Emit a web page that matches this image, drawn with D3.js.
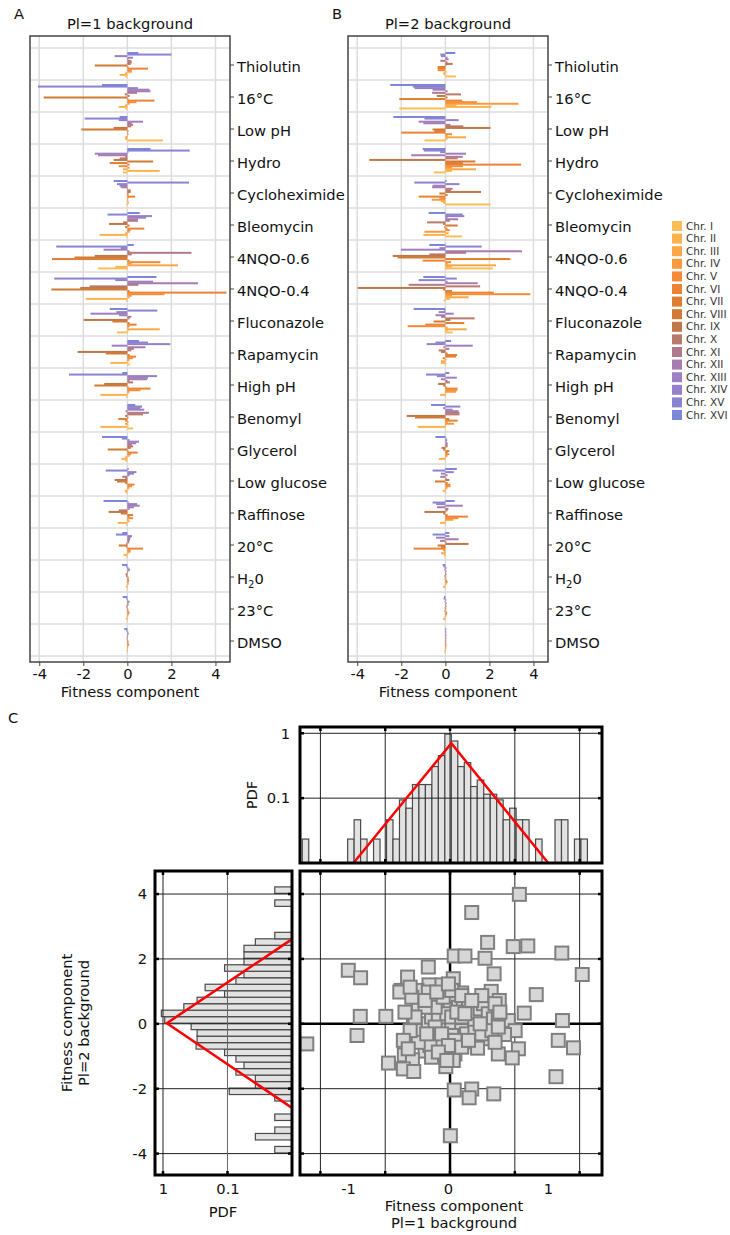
<!DOCTYPE html>
<html>
<head>
<meta charset="utf-8">
<script src="https://cdn.jsdelivr.net/npm/d3@7"></script>
<style>
body { margin: 0; background: #fff; }
svg { font-family: "DejaVu Sans", Verdana, sans-serif; }
</style>
</head>
<body>
<svg width="730" height="1235"></svg>
<script>
var conditions = ["Thiolutin", "16°C", "Low pH", "Hydro", "Cycloheximide", "Bleomycin", "4NQO-0.6", "4NQO-0.4",
    "Fluconazole", "Rapamycin", "High pH", "Benomyl", "Glycerol", "Low glucose", "Raffinose", "20°C", "H20", "23°C", "DMSO"];

var chroms = ["Chr. I", "Chr. II", "Chr. III", "Chr. IV", "Chr. V", "Chr. VI", "Chr. VII", "Chr. VIII",
    "Chr. IX", "Chr. X", "Chr. XI", "Chr. XII", "Chr. XIII", "Chr. XIV", "Chr. XV", "Chr. XVI"];

var chrColors = ["#fbbe55", "#fbb24c", "#fba745", "#f99a3f", "#f78b35", "#ec8334", "#de7e33", "#d07a34",
    "#c07849", "#b97a6b", "#b07a8c", "#a87bb1", "#9e7fc3", "#9381ca", "#8884d2", "#7d87d9"];

// fitness components per condition, listed Chr. XVI (top of group) down to Chr. I
var pl1Values = [
    [0.5, 2.0, -0.58, 0.26, 0.05, 0.18, 0.2, 0.15, -1.48, 0.05, 0.94, 0.2, 0.2, -0.1, -0.35, -0.1],
    [-1.15, -4.06, 0.48, 1.0, 1.05, 0.44, -0.12, 0.1, -3.8, 0.05, 1.23, 0.41, 0.1, -0.1, -0.4, -0.1],
    [-0.35, -1.94, -0.39, 0.71, 0.2, 0.26, 0.18, -0.62, -2.09, 0.05, 0.03, 0.05, 0.02, -0.1, -0.1, 1.62],
    [1.05, 2.83, 0.05, -1.48, -1.33, -0.1, -0.35, -0.62, 1.17, -0.8, 0.1, -0.39, 0.1, -0.2, 1.47, -0.2],
    [-0.62, 2.8, -0.47, -0.35, -0.3, 0.03, 0.15, 0.15, 0.05, 0.05, 0.35, 0.05, 0.02, 0.05, 0.07, -0.05],
    [0.56, -0.9, 1.12, 0.85, 0.48, 0.48, -0.2, -0.83, 0.1, -0.1, 0.77, 0.15, 0.1, -0.1, -1.26, -0.05],
    [0.29, -3.23, -0.3, -1.08, 0.1, 2.91, 0.2, -1.48, -2.4, -3.42, 0.1, 1.5, 0.2, 2.3, -0.55, -1.33],
    [1.32, -3.32, -0.55, 1.17, 3.21, 0.5, -1.71, -2.14, -3.45, 0.1, 4.5, 1.68, 0.2, 0.1, -1.89, -0.05],
    [-0.8, 1.36, -0.5, -1.67, -0.38, 0.18, 0.1, -1.98, -0.68, 0.1, 0.42, 0.1, 0.05, 1.47, 0.05, -0.47],
    [0.53, 0.94, 1.95, -0.71, 0.82, 0.3, 0.18, -2.26, -0.98, 0.1, 0.39, 0.26, 0.1, 0.05, -0.77, 0.12],
    [-0.23, -2.65, 1.35, 0.94, 0.9, 0.1, 0.26, -1.05, -1.5, 0.05, 1.05, 0.59, 0.1, 0.05, -1.23, -0.05],
    [0.36, 0.67, 0.59, 0.77, -0.08, 0.98, 0.71, -0.1, 0.05, -0.41, -0.1, 0.05, -0.1, 0.05, -1.23, 0.26],
    [-1.15, -0.25, 0.1, 0.53, 0.4, 0.2, 0.26, 0.15, -0.89, 0.05, 0.47, 0.17, 0.1, -0.1, -0.27, -0.1],
    [0.06, -0.98, 0.41, 0.3, 0.1, -0.23, -0.1, -0.58, -0.47, -0.1, 0.32, 0.21, 0.1, 0.05, -0.12, -0.08],
    [-1.08, 0.06, 0.44, 0.56, 0.3, 0.1, -0.39, -0.85, -0.3, 0.26, 0.1, 0.26, 0.05, 0.1, -0.44, -0.05],
    [-0.23, -0.52, 0.21, 0.15, 0.12, 0.1, 0.08, -0.05, -0.39, -0.05, 0.71, 0.15, 0.14, 0.05, -0.17, -0.05],
    [-0.24, -0.05, 0.05, 0.12, 0.05, 0.03, -0.08, -0.06, 0.05, 0.06, 0.08, 0.05, 0.06, -0.03, -0.06, 0.02],
    [-0.21, -0.05, 0.03, 0.1, 0.05, 0.05, -0.05, -0.03, 0.04, 0.05, 0.1, 0.06, 0.04, -0.03, -0.06, 0.02],
    [-0.14, -0.05, 0.04, 0.06, 0.03, 0.03, -0.03, -0.02, 0.05, 0.04, 0.08, 0.04, 0.03, 0.02, -0.03, 0.02]
];

var pl2Values = [
    [0.45, -0.23, -0.2, 0.1, 0.15, -0.23, 0.1, 0.33, 0.05, -0.35, -0.35, -0.35, 0.05, -0.1, -0.05, 0.48],
    [-2.5, -1.48, -1.4, -0.58, 0.1, -0.6, 0.71, -0.39, 0.1, -2.09, 0.76, 1.44, 3.32, 0.5, 2.09, -2.09],
    [-2.36, -0.95, 0.6, -1.21, -1.0, 0.23, 0.82, 2.05, -0.58, -0.5, -2.0, 0.3, 0.1, 0.94, 0.1, -0.95],
    [-1.03, -0.98, -0.24, 0.94, -1.55, 0.79, 0.56, -3.45, 1.36, 0.79, 3.44, 0.8, 0.3, 1.39, 0.3, -0.53],
    [0.06, -1.41, 0.64, -0.58, -0.6, 0.33, 0.25, 1.62, -0.27, 0.1, -1.21, -0.27, -0.62, -0.2, -0.1, 2.05],
    [-0.76, 0.79, 0.86, 0.1, 0.58, 0.2, -0.83, -0.1, 0.56, -0.05, 0.1, 0.2, -0.95, 0.15, -1.0, 0.76],
    [-0.73, 1.65, -0.27, -2.02, 3.48, 0.94, -0.73, -2.39, -2.17, 2.95, -1.03, 0.26, 0.1, 2.3, 0.3, 2.15],
    [-1.0, 0.52, -1.21, 0.1, 1.47, -1.67, 1.58, -3.98, -0.1, 0.3, 2.2, 3.86, 0.3, 1.06, 0.2, -0.08],
    [-1.44, -0.05, -0.3, 0.38, -0.45, -0.2, 1.33, 0.23, -0.53, 0.86, -0.91, -1.71, 0.1, 0.97, 0.1, 0.33],
    [0.26, -0.45, -0.85, 1.24, -0.09, 0.18, -0.3, -0.2, 0.1, 0.53, 0.48, -0.12, 0.05, -0.2, -0.2, 0.05],
    [0.18, -0.88, -0.39, 0.52, -0.2, 0.1, 0.21, -0.33, -0.1, 0.05, 0.56, 0.53, 0.48, 0.05, -0.24, 0.03],
    [-0.65, 0.68, -0.1, 0.33, 0.6, 0.64, 0.64, -1.76, -1.38, 0.18, 0.56, 0.1, 0.39, 0.05, -1.26, 0.02],
    [-0.45, 0.05, 0.08, 0.05, 0.1, 0.1, 0.1, -0.17, -0.1, 0.18, 0.1, 0.18, 0.1, 0.05, -0.3, 0.02],
    [0.52, -0.58, 0.38, -0.2, 0.1, -0.23, 0.05, 0.18, -0.47, 0.1, 0.23, 0.23, 0.1, 0.05, -0.12, 0.05],
    [0.42, -0.58, -0.42, 0.79, -0.38, 0.14, 0.1, -0.95, -0.1, 0.1, 1.02, 0.59, 0.36, 0.05, -0.24, 0.03],
    [0.18, -0.58, 0.18, -0.42, 0.6, -0.24, 0.05, 1.05, -0.35, -0.2, -1.44, -0.1, -0.05, -0.2, -0.05, -0.05],
    [-0.12, -0.08, 0.05, -0.05, 0.05, 0.03, 0.05, -0.04, 0.04, -0.03, 0.08, 0.1, 0.05, -0.03, -0.1, 0.02],
    [-0.06, -0.08, 0.04, -0.03, 0.05, 0.03, 0.05, -0.03, 0.04, -0.04, 0.08, 0.08, 0.04, -0.03, -0.1, 0.02],
    [0.04, 0.03, 0.04, 0.03, 0.05, 0.03, 0.04, 0.02, 0.04, 0.03, 0.05, 0.04, 0.04, 0.03, -0.04, -0.03]
];

var barTicks = [-4, -2, 0, 2, 4];

// panel C histograms (bin width 0.2)
var binW = 0.2;
var topBinStart = -4.56;
var topPdf = [0.0234, 0, 0, 0, 0, 0, 0, 0.0234, 0.0464, 0.0234, 0, 0.0234, 0, 0.0464, 0.0234, 0.094,
    0.070, 0.162, 0.162, 0.162, 0.307, 0.453, 0.97, 0.76, 0.307, 0.353, 0.151, 0.19, 0.115, 0.115,
    0.094, 0.0464, 0.070, 0.0464, 0.0464, 0, 0.0234, 0, 0, 0.0464, 0.0464, 0, 0.0234, 0.0234];
var leftBinStart = -3.98;
var leftPdf = [0.0185, 0, 0.037, 0.0185, 0, 0.0185, 0, 0, 0.0185, 0.094, 0.037, 0.037, 0.074, 0.0555,
    0.074, 0.111, 0.307, 0.296, 0.296, 0.366, 0.94, 1.06, 0.475, 0.296, 0.111, 0.222, 0.074, 0.0555,
    0.111, 0.0555, 0.0555, 0.0555, 0.037, 0.0185, 0, 0, 0, 0, 0.0185, 0, 0.0185];
// Laplace fits drawn in red: [value, pdf]
var topFit = [[-2.98, 0.01], [0.04, 0.70], [3.03, 0.01]];
var leftFit = [[-2.59, 0.01], [0.02, 0.87], [2.61, 0.01]];

// scatter: [Pl=1 fitness, Pl=2 fitness]
var scatterPts = [
    [2.14, 3.99], [0.67, 3.43], [1.16, 2.51], [1.95, 2.38], [2.40, 2.40], [3.45, 2.18], [0.13, 2.09],
    [0.46, 2.09], [1.08, 2.02], [-0.67, 1.75], [-3.14, 1.65], [-2.76, 1.42], [1.36, 1.54], [4.08, 1.52],
    [-1.31, 1.44], [0.10, 1.39], [-0.26, 1.20], [-0.65, 1.20], [-1.51, 1.03], [-1.55, 0.98], [-1.02, 1.03],
    [0.36, 0.95], [1.27, 1.00], [2.66, 0.90], [1.52, 0.72], [-0.51, 0.77], [-0.98, 0.60], [-0.10, 0.67],
    [0.15, 0.62], [0.77, 0.51], [-0.38, 0.39], [0.00, 0.46], [0.36, 0.41], [1.13, 0.46], [2.29, 0.33],
    [-2.77, 0.23], [-1.98, 0.23], [0.62, 0.21], [0.98, 0.21], [1.51, 0.12], [1.80, 0.10], [3.47, 0.10],
    [-0.87, -0.02], [-1.13, -0.05], [-0.21, -0.06], [0.05, -0.10], [0.67, -0.05], [1.13, 0.00], [2.01, -0.21],
    [-2.87, -0.36], [-4.42, -0.62], [-1.23, -0.48], [-0.46, -0.44], [0.41, -0.55], [1.23, -0.46], [1.68, -0.33],
    [3.34, -0.51], [3.81, -0.74], [2.11, -0.77], [0.85, -0.75], [-0.77, -0.84], [-1.41, -0.96], [-0.10, -0.82],
    [0.15, -0.93], [1.49, -0.93], [1.92, -1.05], [-1.90, -1.21], [-1.16, -1.11], [-1.44, -1.39], [-1.12, -1.47],
    [-0.13, -1.32], [3.27, -1.63], [0.13, -2.04], [0.67, -2.01], [0.59, -2.28], [1.35, -2.16], [0.01, -3.45],
    [-1.08, -0.05], [-0.96, -0.21], [-0.67, 0.00], [-0.57, 0.21], [-0.36, 0.21], [-0.10, 0.31], [0.05, 0.21],
    [0.26, 0.51], [0.41, 0.72], [0.57, 0.62], [0.77, 0.36], [0.93, 0.46], [1.03, 0.62], [1.18, 0.31],
    [1.34, 0.15], [1.49, 0.31], [0.36, -0.21], [0.51, -0.31], [0.77, -0.26], [0.98, -0.31], [1.29, -0.21],
    [0.05, -0.36], [-0.15, -0.51], [-0.36, -0.57], [-0.62, -0.67], [-0.98, -0.57], [-1.23, -0.21], [-0.46, -0.10],
    [-0.72, -0.31], [-0.26, -0.31], [0.15, -0.51], [-0.05, -0.67], [0.36, 0.21], [0.21, 0.36], [-0.46, 0.51],
    [-0.21, 0.82], [0.05, 1.03], [0.36, 0.87], [-0.77, 0.51], [-1.18, 0.82], [-1.23, 1.13], [-0.67, 0.98],
    [0.98, 0.87], [1.39, 0.62], [1.54, 0.36], [-1.08, 0.21], [-1.39, 0.36], [-1.44, -0.51], [-1.29, -0.77],
    [-0.57, -1.03], [-0.36, -0.87], [0.10, -1.13], [-0.10, -1.13], [0.36, -0.72], [0.57, -0.51], [0.93, 0.00],
    [1.49, -0.10], [1.39, -0.57], [-0.77, 0.72], [-0.41, 0.98], [-0.05, 1.23], [0.46, 0.31], [0.67, 0.72]
];

var cGrid = [-4, -2, 0, 2, 4];
var cLabels = [-1, 0, 1];

var FS = 14.7;
var svg = d3.select("svg");

function txt(x, y, s, size, anchor) {
    return svg.append("text").attr("x", x).attr("y", y).attr("font-size", size || FS)
        .attr("text-anchor", anchor || "middle").attr("fill", "#111").text(s);
}

function styleText(sel) {
    sel.selectAll("text").attr("font-size", FS).attr("font-family", "DejaVu Sans").attr("fill", "#111");
}

// ---------- panels A and B ----------
function barPanel(left, values, letter, title) {
    var x = d3.scaleLinear().domain([-4.42, 4.66]).range([left, left + 200]);
    var y = d3.scaleBand().domain(conditions).range([48, 656]);
    var yIn = d3.scaleBand().domain(d3.range(16)).range([-12.5, 12.5]);
    var top = 36, bottom = 662;
    var g = svg.append("g");

    g.selectAll(".vg").data(barTicks).join("line")
        .attr("x1", d => x(d)).attr("x2", d => x(d)).attr("y1", top).attr("y2", bottom)
        .attr("stroke", "#dcdcdc").attr("stroke-width", 1.5);
    var bounds = conditions.map(c => y(c)).concat([y.range()[1]]);
    g.selectAll(".hg").data(bounds).join("line")
        .attr("x1", left).attr("x2", left + 200).attr("y1", d => d).attr("y2", d => d)
        .attr("stroke", "#dcdcdc").attr("stroke-width", 1.5);

    var bars = [];
    values.forEach(function(row, i) {
        row.forEach(function(v, j) {
            bars.push({cond: conditions[i], j: j, v: v});
        });
    });
    g.selectAll(".bar").data(bars).join("rect")
        .attr("x", d => x(Math.min(0, d.v)))
        .attr("width", d => Math.abs(x(d.v) - x(0)))
        .attr("y", d => y(d.cond) + y.bandwidth() / 2 + yIn(d.j) + 0.5)
        .attr("height", 2)
        .attr("fill", d => chrColors[15 - d.j]);

    g.append("rect").attr("x", left).attr("y", top).attr("width", 200).attr("height", bottom - top)
        .attr("fill", "none").attr("stroke", "#444").attr("stroke-width", 1.5);

    var ax = g.append("g").attr("transform", "translate(0," + bottom + ")")
        .call(d3.axisBottom(x).tickValues(barTicks).tickSize(4).tickPadding(3).tickFormat(d => String(d)));
    ax.select(".domain").remove();
    ax.selectAll("line").attr("stroke", "#444");
    styleText(ax);

    var ay = g.append("g").attr("transform", "translate(" + (left + 200) + ",1)")
        .call(d3.axisRight(y).tickSize(4).tickPadding(3));
    ay.select(".domain").remove();
    ay.selectAll("line").attr("stroke", "#444");
    styleText(ay);
    ay.selectAll(".tick text").attr("dy", "0.5em");
    ay.selectAll(".tick text").filter(d => d === "H20").text(null).each(function() {
        var t = d3.select(this);
        t.append("tspan").text("H");
        t.append("tspan").attr("dy", 4).attr("font-size", 10).text("2");
        t.append("tspan").attr("dy", -4).text("0");
    });

    txt(left - 16, 19, letter, FS, "start");
    txt(left + 100, 29, title);
    txt(left + 100, 697, "Fitness component");
}

barPanel(30, pl1Values, "A", "Pl=1 background");
barPanel(348, pl2Values, "B", "Pl=2 background");

// legend
var leg = svg.append("g");
leg.selectAll("rect").data(chroms).join("rect")
    .attr("x", 672).attr("y", (d, i) => 221 + i * 12.6).attr("width", 10).attr("height", 10)
    .attr("fill", (d, i) => chrColors[i]);
leg.selectAll("text").data(chroms).join("text")
    .attr("x", 686).attr("y", (d, i) => 229.5 + i * 12.6)
    .attr("font-size", 10.5).attr("font-family", "DejaVu Sans").attr("fill", "#333")
    .text(d => d);

// ---------- panel C ----------
var xC = d3.scaleLinear().domain([-4.63, 4.69]).range([300, 602]);
var xLab = d3.scaleLinear().domain([-1.48, 1.54]).range([300, 602]);
var yC = d3.scaleLinear().domain([-4.66, 4.71]).range([1175, 871]);
var yTop = d3.scaleLog().domain([0.01, 1.25]).range([863, 727]);
var xLeft = d3.scaleLog().domain([0.01, 1.33]).range([292, 155]);

txt(8, 723, "C", FS, "start");

function nubs(g, xs, ys, x0, x1, y0, y1) {
    xs.forEach(function(v) {
        g.append("line").attr("x1", v).attr("x2", v).attr("y1", y0).attr("y2", y0 + 4).attr("stroke", "#000").attr("stroke-width", 2.5);
        g.append("line").attr("x1", v).attr("x2", v).attr("y1", y1 - 4).attr("y2", y1).attr("stroke", "#000").attr("stroke-width", 2.5);
    });
    ys.forEach(function(v) {
        g.append("line").attr("x1", x0).attr("x2", x0 + 4).attr("y1", v).attr("y2", v).attr("stroke", "#000").attr("stroke-width", 2.5);
        g.append("line").attr("x1", x1 - 4).attr("x2", x1).attr("y1", v).attr("y2", v).attr("stroke", "#000").attr("stroke-width", 2.5);
    });
}

// top histogram
var gt = svg.append("g");
var topBars = topPdf.map((p, i) => ({x0: topBinStart + i * binW, p: p})).filter(d => d.p > 0);
gt.selectAll("rect.b").data(topBars).join("rect")
    .attr("x", d => xC(d.x0)).attr("width", d => xC(d.x0 + binW) - xC(d.x0))
    .attr("y", d => yTop(d.p)).attr("height", d => yTop(0.01) - yTop(d.p))
    .attr("fill", "#e2e2e2").attr("stroke", "#4a4a4a").attr("stroke-width", 1.2);
gt.selectAll(".vg").data(cGrid).join("line")
    .attr("x1", d => xC(d)).attr("x2", d => xC(d)).attr("y1", 727).attr("y2", 863)
    .attr("stroke", "#222").attr("stroke-width", 1);
gt.selectAll(".hg").data([1, 0.1]).join("line")
    .attr("x1", 300).attr("x2", 602).attr("y1", d => yTop(d)).attr("y2", d => yTop(d))
    .attr("stroke", "#222").attr("stroke-width", 1);
nubs(gt, cGrid.map(xC), [1, 0.1].map(yTop), 300, 602, 727, 863);
gt.append("path").datum(topFit)
    .attr("d", d3.line().x(d => xC(d[0])).y(d => yTop(d[1])))
    .attr("fill", "none").attr("stroke", "#ff0000").attr("stroke-width", 2.5);
gt.append("rect").attr("x", 300).attr("y", 727).attr("width", 302).attr("height", 136)
    .attr("fill", "none").attr("stroke", "#000").attr("stroke-width", 3);
var aTop = gt.append("g").attr("transform", "translate(300,0)")
    .call(d3.axisLeft(yTop).tickValues([1, 0.1]).tickSize(0).tickPadding(10).tickFormat(d => d === 1 ? "1" : "0.1"));
aTop.select(".domain").remove();
styleText(aTop);
txt(0, 0, "PDF").attr("transform", "translate(257,795) rotate(-90)");

// left histogram
var gl = svg.append("g");
var leftBars = leftPdf.map((p, i) => ({y0: leftBinStart + i * binW, p: p})).filter(d => d.p > 0);
gl.selectAll("rect.b").data(leftBars).join("rect")
    .attr("x", d => xLeft(d.p)).attr("width", d => xLeft(0.01) - xLeft(d.p))
    .attr("y", d => yC(d.y0 + binW)).attr("height", d => yC(d.y0) - yC(d.y0 + binW))
    .attr("fill", "#e2e2e2").attr("stroke", "#4a4a4a").attr("stroke-width", 1.2);
gl.selectAll(".hg").data(cGrid).join("line")
    .attr("x1", 155).attr("x2", 292).attr("y1", d => yC(d)).attr("y2", d => yC(d))
    .attr("stroke", "#222").attr("stroke-width", 1);
gl.selectAll(".vg").data([1, 0.1]).join("line")
    .attr("x1", d => xLeft(d)).attr("x2", d => xLeft(d)).attr("y1", 871).attr("y2", 1175)
    .attr("stroke", d => d === 1 ? "#222" : "#666").attr("stroke-width", 1);
nubs(gl, [1, 0.1].map(xLeft), cGrid.map(yC), 155, 292, 871, 1175);
gl.append("path").datum(leftFit)
    .attr("d", d3.line().x(d => xLeft(d[1])).y(d => yC(d[0])))
    .attr("fill", "none").attr("stroke", "#ff0000").attr("stroke-width", 2.5);
gl.append("rect").attr("x", 155).attr("y", 871).attr("width", 137).attr("height", 304)
    .attr("fill", "none").attr("stroke", "#000").attr("stroke-width", 3);
var aLy = gl.append("g").attr("transform", "translate(155,0)")
    .call(d3.axisLeft(yC).tickValues(cGrid).tickSize(0).tickPadding(8).tickFormat(d => String(d)));
aLy.select(".domain").remove();
styleText(aLy);
var aLx = gl.append("g").attr("transform", "translate(0,1175)")
    .call(d3.axisBottom(xLeft).tickValues([1, 0.1]).tickSize(0).tickPadding(9).tickFormat(d => d === 1 ? "1" : "0.1"));
aLx.select(".domain").remove();
styleText(aLx);
txt(223, 1217, "PDF");
txt(0, 0, "Fitness component").attr("transform", "translate(72,1023) rotate(-90)");
txt(0, 0, "Pl=2 background").attr("transform", "translate(89,1023) rotate(-90)");

// scatter
var gs = svg.append("g");
gs.selectAll(".vg").data(cGrid.filter(d => d !== 0)).join("line")
    .attr("x1", d => xC(d)).attr("x2", d => xC(d)).attr("y1", 871).attr("y2", 1175)
    .attr("stroke", "#222").attr("stroke-width", 1);
gs.selectAll(".hg").data(cGrid.filter(d => d !== 0)).join("line")
    .attr("x1", 300).attr("x2", 602).attr("y1", d => yC(d)).attr("y2", d => yC(d))
    .attr("stroke", "#222").attr("stroke-width", 1);
gs.append("line").attr("x1", xC(0)).attr("x2", xC(0)).attr("y1", 871).attr("y2", 1175)
    .attr("stroke", "#000").attr("stroke-width", 2.5);
gs.append("line").attr("x1", 300).attr("x2", 602).attr("y1", yC(0)).attr("y2", yC(0))
    .attr("stroke", "#000").attr("stroke-width", 2.5);
nubs(gs, cGrid.map(xC), cGrid.map(yC), 300, 602, 871, 1175);
gs.selectAll("rect.p").data(scatterPts).join("rect")
    .attr("x", d => xC(d[0]) - 6.5).attr("y", d => yC(d[1]) - 6.5)
    .attr("width", 13).attr("height", 13)
    .attr("fill", "#d6d6d6").attr("stroke", "#7f7f7f").attr("stroke-width", 2);
gs.append("rect").attr("x", 300).attr("y", 871).attr("width", 302).attr("height", 304)
    .attr("fill", "none").attr("stroke", "#000").attr("stroke-width", 3);
var aSx = gs.append("g").attr("transform", "translate(0,1175)")
    .call(d3.axisBottom(xLab).tickValues(cLabels).tickSize(0).tickPadding(9).tickFormat(d => String(d)));
aSx.select(".domain").remove();
styleText(aSx);
txt(454, 1211, "Fitness component");
txt(454, 1228, "Pl=1 background");
</script>
</body>
</html>
